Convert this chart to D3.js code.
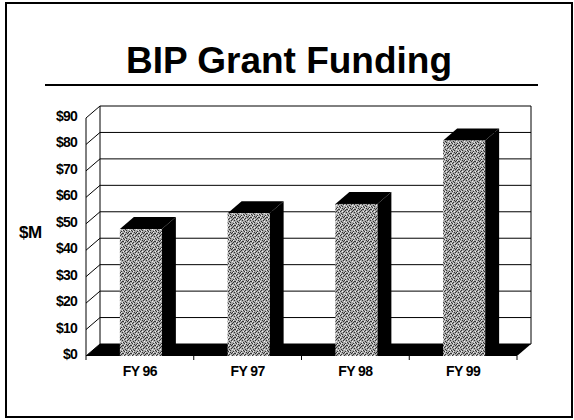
<!DOCTYPE html>
<html>
 <head>
  <title>BIP Grant Funding</title>
  <style>
  body { margin: 0; background: #fff; }
  svg { display: block; }
  text { font-family: "Liberation Sans", Arial, sans-serif; font-weight: bold; fill: #000; }
  </style>
  <script src="https://cdnjs.cloudflare.com/ajax/libs/d3/7.8.3/d3.min.js"></script>
 </head>
 <body>
  <script>
   const categories = ["FY 96", "FY 97", "FY 98", "FY 99"];
   const funding = [48, 54, 57.5, 81.5];
   const yTicks = [0, 10, 20, 30, 40, 50, 60, 70, 80, 90];

   const w = 574, h = 420;
   const dx = 14, dy = -12; // depth offset of the 3d box

   const svg = d3.select("body").append("svg")
                 .attr("width", w)
                 .attr("height", h);

   // stipple texture for bar fronts
   const dark = [[0,0],[3,1],[6,0],[1,2],[5,2],[4,3],[7,4],[2,4],[5,5],[0,3],[3,6],[6,6],[1,7],[4,7],[2,1],[7,1]];
   const light = [[1,0],[4,1],[0,5],[6,3],[2,6],[5,7],[3,3]];
   const pat = svg.append("defs").append("pattern")
                  .attr("id", "stipple")
                  .attr("patternUnits", "userSpaceOnUse")
                  .attr("width", 8).attr("height", 8);
   pat.append("rect").attr("width", 8).attr("height", 8).attr("fill", "#aaa");
   pat.selectAll("rect.d").data(dark).enter().append("rect")
      .attr("class", "d")
      .attr("x", d => d[0]).attr("y", d => d[1])
      .attr("width", 1).attr("height", 1)
      .attr("fill", "#333");
   pat.selectAll("rect.l").data(light).enter().append("rect")
      .attr("class", "l")
      .attr("x", d => d[0]).attr("y", d => d[1])
      .attr("width", 1).attr("height", 1)
      .attr("fill", "#eee");

   // outer frame
   svg.append("rect")
      .attr("x", 6).attr("y", 3)
      .attr("width", 566).attr("height", 414)
      .attr("fill", "none")
      .attr("stroke", "#000")
      .attr("stroke-width", 2);

   svg.append("text")
      .attr("x", 289).attr("y", 73)
      .attr("text-anchor", "middle")
      .style("font-size", "37px")
      .text("BIP Grant Funding");

   svg.append("line")
      .attr("x1", 45).attr("x2", 538)
      .attr("y1", 85).attr("y2", 85)
      .attr("stroke", "#000")
      .attr("stroke-width", 2);

   const x = d3.scaleBand()
               .domain(categories)
               .range([86, 517]);
   const y = d3.scaleLinear()
               .domain([0, 90])
               .range([356, 118]);

   const x0 = x.range()[0], x1 = x.range()[1];
   const g = svg.append("g");

   // back wall gridlines
   g.selectAll("line.grid").data(yTicks).enter().append("line")
    .attr("class", "grid")
    .attr("x1", x0 + dx).attr("x2", x1 + dx)
    .attr("y1", d => y(d) + dy).attr("y2", d => y(d) + dy)
    .attr("stroke", "#000").attr("stroke-width", 1);
   // side wall diagonals
   g.selectAll("line.diag").data(yTicks).enter().append("line")
    .attr("class", "diag")
    .attr("x1", x0).attr("x2", x0 + dx)
    .attr("y1", d => y(d)).attr("y2", d => y(d) + dy)
    .attr("stroke", "#000").attr("stroke-width", 1);
   // wall edges
   g.append("line")
    .attr("x1", x0 + dx).attr("x2", x0 + dx)
    .attr("y1", y(90) + dy).attr("y2", y(0) + dy)
    .attr("stroke", "#000");
   g.append("line")
    .attr("x1", x1 + dx).attr("x2", x1 + dx)
    .attr("y1", y(90) + dy).attr("y2", y(0) + dy)
    .attr("stroke", "#000");
   g.append("line")
    .attr("x1", x0).attr("x2", x0)
    .attr("y1", y(90)).attr("y2", y(0))
    .attr("stroke", "#000");

   // floor
   g.append("path")
    .attr("d", `M${x0},${y(0)}L${x1},${y(0)}L${x1 + dx},${y(0) + dy}L${x0 + dx},${y(0) + dy}Z`)
    .attr("fill", "#000");

   // x axis ticks along the floor front
   const xAxis = d3.axisBottom(x).tickSize(0).tickPadding(10);
   const xg = svg.append("g")
                 .attr("transform", "translate(0," + y(0) + ")")
                 .call(xAxis);
   xg.select(".domain").remove();
   xg.selectAll("text").style("font-size", "14px").attr("font-family", null)
     .style("letter-spacing", "-0.6px");
   svg.append("g").selectAll("line")
      .data(d3.range(categories.length + 1))
      .enter().append("line")
      .attr("x1", i => x0 + i * x.step()).attr("x2", i => x0 + i * x.step())
      .attr("y1", y(0)).attr("y2", y(0) + 4)
      .attr("stroke", "#000");

   // y axis labels
   const yAxis = d3.axisLeft(y).tickValues(yTicks).tickSize(0).tickPadding(9)
                   .tickFormat(d => "$" + d);
   const yg = svg.append("g")
                 .attr("transform", "translate(" + x0 + ",-2)")
                 .call(yAxis);
   yg.select(".domain").remove();
   yg.selectAll("text").style("font-size", "14px").attr("font-family", null)
     .style("letter-spacing", "-0.8px");

   svg.append("text")
      .attr("x", 19).attr("y", 238)
      .style("font-size", "17px")
      .style("letter-spacing", "-0.5px")
      .text("$M");

   // bars
   const bw = 42;
   const bars = svg.append("g").selectAll("g")
                   .data(funding)
                   .enter().append("g");
   const bx = (d, i) => x(categories[i]) + x.bandwidth() / 2 - bw / 2 + 1;
   bars.append("path")
       .attr("d", (d, i) => {
         const l = bx(d, i), r = l + bw, t = y(d), b = y(0);
         return `M${r},${b}L${r + dx},${b + dy}L${r + dx},${t + dy}L${r},${t}Z`;
       })
       .attr("fill", "#000");
   bars.append("path")
       .attr("d", (d, i) => {
         const l = bx(d, i), r = l + bw, t = y(d);
         return `M${l},${t}L${l + dx},${t + dy}L${r + dx},${t + dy}L${r},${t}Z`;
       })
       .attr("fill", "#000");
   bars.append("rect")
       .attr("x", bx)
       .attr("y", d => y(d))
       .attr("width", bw)
       .attr("height", d => y(0) - y(d))
       .attr("fill", "url(#stipple)");
  </script>
 </body>
</html>
